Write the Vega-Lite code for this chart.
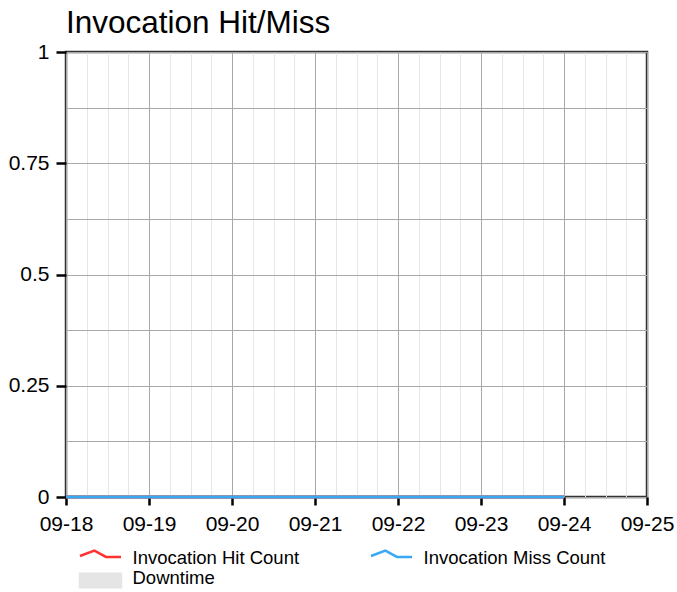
{
  "$schema": "https://vega.github.io/schema/vega-lite/v6.json",
  "width": 581,
  "height": 445,
  "autosize": {"type": "none"},
  "padding": {"left": 66, "top": 52, "right": 30, "bottom": 95},
  "background": "white",
  "title": {
    "text": "Invocation Hit/Miss",
    "anchor": "start",
    "frame": "group",
    "font": "Liberation Sans",
    "fontSize": 31.5,
    "fontWeight": "normal",
    "color": "#000000",
    "offset": 2
  },
  "config": {
    "view": {"stroke": "#333333", "strokeWidth": 2.5},
    "font": "Liberation Sans"
  },
  "data": {
    "values": [
      {"date": 1694995200000, "series": "Invocation Hit Count", "value": 0},
      {"date": 1695081600000, "series": "Invocation Hit Count", "value": 0},
      {"date": 1695168000000, "series": "Invocation Hit Count", "value": 0},
      {"date": 1695254400000, "series": "Invocation Hit Count", "value": 0},
      {"date": 1695340800000, "series": "Invocation Hit Count", "value": 0},
      {"date": 1695427200000, "series": "Invocation Hit Count", "value": 0},
      {"date": 1695513600000, "series": "Invocation Hit Count", "value": 0},
      {"date": 1694995200000, "series": "Invocation Miss Count", "value": 0},
      {"date": 1695081600000, "series": "Invocation Miss Count", "value": 0},
      {"date": 1695168000000, "series": "Invocation Miss Count", "value": 0},
      {"date": 1695254400000, "series": "Invocation Miss Count", "value": 0},
      {"date": 1695340800000, "series": "Invocation Miss Count", "value": 0},
      {"date": 1695427200000, "series": "Invocation Miss Count", "value": 0},
      {"date": 1695513600000, "series": "Invocation Miss Count", "value": 0}
    ]
  },
  "mark": {"type": "line", "strokeWidth": 3},
  "encoding": {
    "x": {
      "field": "date",
      "type": "quantitative",
      "scale": {"domain": [1694995200000, 1695600000000], "nice": false, "zero": false},
      "axis": {
        "title": null,
        "domain": false,
        "values": [1694995200000, 1695016800000, 1695038400000, 1695060000000, 1695081600000, 1695103200000, 1695124800000, 1695146400000, 1695168000000, 1695189600000, 1695211200000, 1695232800000, 1695254400000, 1695276000000, 1695297600000, 1695319200000, 1695340800000, 1695362400000, 1695384000000, 1695405600000, 1695427200000, 1695448800000, 1695470400000, 1695492000000, 1695513600000, 1695535200000, 1695556800000, 1695578400000, 1695600000000],
        "labelExpr": "(datum.value % 86400000) == 0 ? utcFormat(datum.value, '%m-%d') : ''",
        "labelFlush": false,
        "labelBound": false,
        "labelOverlap": false,
        "labelFont": "Liberation Sans",
        "labelFontSize": 21,
        "labelColor": "#000000",
        "labelPadding": 8,
        "ticks": true,
        "tickSize": 8,
        "tickWidth": 2.5,
        "tickColor": {"condition": {"test": "(datum.value % 86400000) != 0", "value": "transparent"}, "value": "#000000"},
        "grid": true,
        "gridColor": {"condition": {"test": "(datum.value % 86400000) != 0", "value": "#e6e6e6"}, "value": "#a8a8a8"},
        "gridOpacity": 1
      }
    },
    "y": {
      "field": "value",
      "type": "quantitative",
      "scale": {"domain": [0, 1], "nice": false, "zero": true},
      "axis": {
        "title": null,
        "domain": false,
        "values": [0, 0.125, 0.25, 0.375, 0.5, 0.625, 0.75, 0.875, 1],
        "labelExpr": "(datum.value * 4) % 1 == 0 ? format(datum.value, '~g') : ''",
        "labelOverlap": false,
        "labelFlush": false,
        "labelBound": false,
        "labelFont": "Liberation Sans",
        "labelFontSize": 21,
        "labelColor": "#000000",
        "labelPadding": 7,
        "tickSize": 10,
        "tickWidth": 2.5,
        "tickColor": {"condition": {"test": "(datum.value * 4) % 1 != 0", "value": "transparent"}, "value": "#000000"},
        "grid": true,
        "gridColor": "#a8a8a8",
        "gridWidth": 1.2,
        "gridOpacity": 1
      }
    },
    "color": {
      "field": "series",
      "type": "nominal",
      "scale": {
        "domain": ["Invocation Hit Count", "Invocation Miss Count", "Downtime"],
        "range": ["#ff3333", "#3aa8f2", "#e5e5e5"]
      },
      "legend": {
        "title": null,
        "orient": "none",
        "legendX": 12,
        "legendY": 497,
        "direction": "horizontal",
        "columns": 2,
        "columnPadding": 65,
        "rowPadding": 0,
        "padding": 0,
        "symbolSize": 144,
        "symbolStrokeWidth": 2.5,
        "labelOffset": 36,
        "labelFont": "Liberation Sans",
        "labelFontSize": 18.5,
        "labelColor": "#000000",
        "labelLimit": 400,
        "encode": {
          "symbols": {
            "update": {
              "shape": {"signal": "datum.value == 'Downtime' ? 'M-1.21,-0.77L5.62,-0.77L5.62,1.5L-1.21,1.5Z' : 'M-1.21,-0.4L1.18,-1.3L3.12,-0.25L5.62,-0.25'"},
              "fill": {"signal": "datum.value == 'Downtime' ? '#e5e5e5' : 'transparent'"},
              "stroke": {"signal": "datum.value == 'Downtime' ? 'transparent' : (datum.value == 'Invocation Hit Count' ? '#ff3333' : '#3aa8f2')"},
              "strokeWidth": {"value": 2.5},
              "opacity": {"value": 1}
            }
          }
        }
      }
    }
  }
}
